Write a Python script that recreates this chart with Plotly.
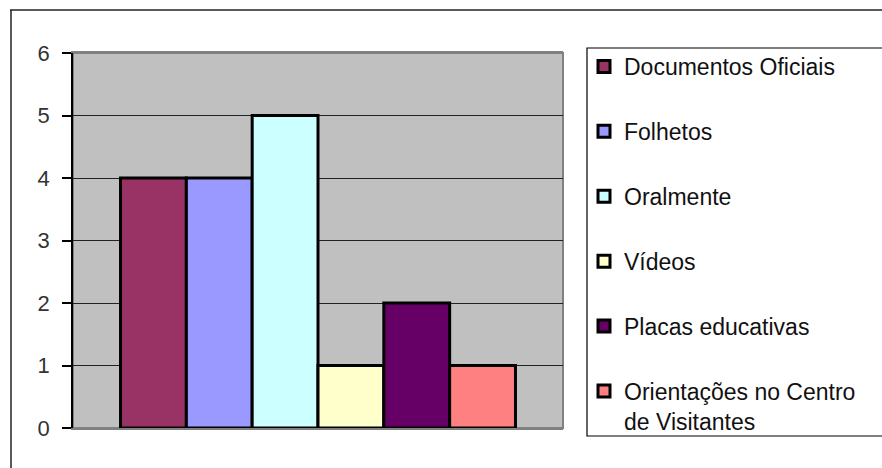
import plotly.graph_objects as go

category = ["Fontes de informação"]
series_names = [
    "Documentos Oficiais",
    "Folhetos",
    "Oralmente",
    "Vídeos",
    "Placas educativas",
    "Orientações no Centro<br>de Visitantes",
]
series_values = [4, 4, 5, 1, 2, 1]
series_colors = ["#993366", "#9999FF", "#CCFFFF", "#FFFFCC", "#660066", "#FF8080"]
y_ticks = [0, 1, 2, 3, 4, 5, 6]

W, H = 882, 468
L, R, T, B = 73, 563, 53, 428  # plot area in px


def px_x(p):
    return (p - L) / (R - L)


def px_y(p):
    return (B - p) / (B - T)


fig = go.Figure()
for i, (name, val, col) in enumerate(zip(series_names, series_values, series_colors)):
    fig.add_trace(go.Bar(
        x=category, y=[val], name=name,
        marker=dict(color=col, line=dict(color="black", width=3)),
        legendgroup=f"g{i}",
        hoverinfo="name+y",
    ))

shapes = [
    # plot area fill + gray border
    dict(type="rect", xref="paper", yref="paper", x0=0, x1=1, y0=0, y1=1,
         fillcolor="#C0C0C0", line=dict(color="#808080", width=2), layer="below"),
    # outer chart frame (top and left edges visible)
    dict(type="line", xref="paper", yref="paper", x0=px_x(10), x1=px_x(900),
         y0=px_y(10), y1=px_y(10), line=dict(color="#222222", width=1.5)),
    dict(type="line", xref="paper", yref="paper", x0=px_x(11), x1=px_x(11),
         y0=px_y(10), y1=px_y(480), line=dict(color="#222222", width=1.5)),
    # legend box
    dict(type="rect", xref="paper", yref="paper", x0=px_x(587), x1=px_x(900),
         y0=px_y(436), y1=px_y(48), line=dict(color="black", width=1.2)),
]

fig.update_layout(
    width=W, height=H,
    margin=dict(l=L, r=W - R, t=T, b=H - B, pad=0),
    paper_bgcolor="white",
    plot_bgcolor="rgba(0,0,0,0)",
    barmode="group",
    bargap=0.194,
    bargroupgap=0,
    font=dict(family="Liberation Sans, Arial, sans-serif", color="#222222"),
    shapes=shapes,
    showlegend=True,
    legend=dict(
        x=px_x(584), xanchor="left",
        y=px_y(45), yanchor="top",
        font=dict(size=23, color="#111111"),
        bgcolor="rgba(0,0,0,0)",
        borderwidth=0,
        traceorder="grouped",
        tracegroupgap=32,
        valign="top",
        maxheight=460,
    ),
    xaxis=dict(
        showticklabels=False, ticks="", showgrid=False, zeroline=False,
        showline=True, mirror=True, linecolor="#808080", linewidth=2,
        layer="below traces",
    ),
    yaxis=dict(
        range=[0, 6], tickvals=y_ticks, ticks="outside", ticklen=9,
        tickcolor="black", tickwidth=1.5,
        showline=True, linecolor="black", linewidth=1.5,
        showgrid=True, gridcolor="#222222", gridwidth=1.2,
        zeroline=False, ticklabelstandoff=8,
        tickfont=dict(size=22, color="#333333"),
    ),
)

fig.write_html("out.html")
